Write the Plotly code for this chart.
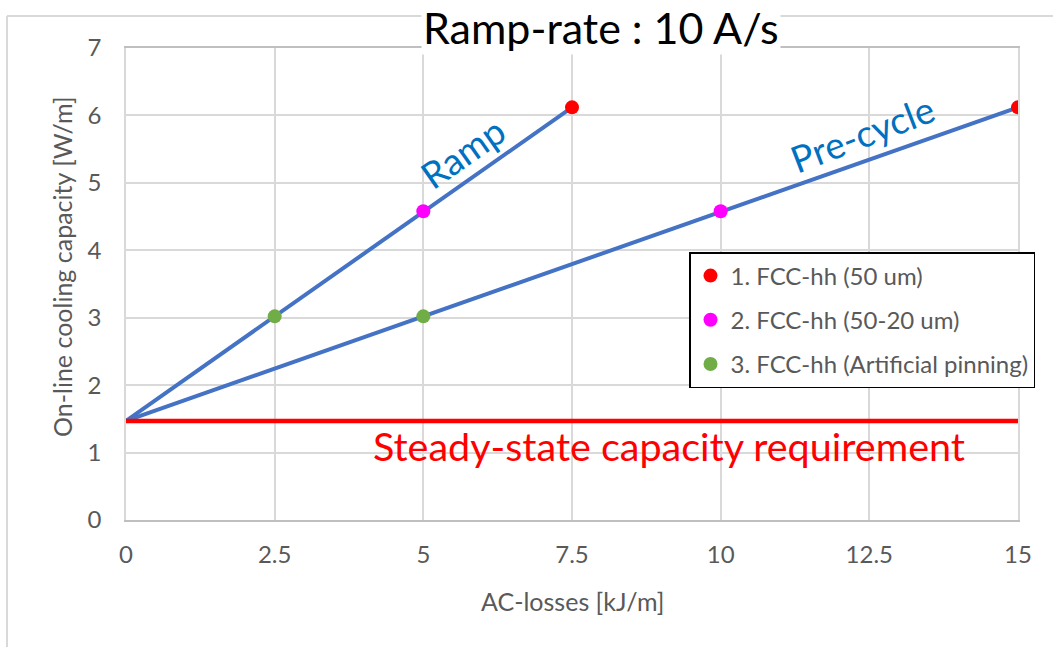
import plotly.graph_objects as go

# ---- data ----
ramp_x = [0, 2.5, 5, 7.5]
precycle_x = [0, 5, 10, 15]
capacity = [1.47, 3.02, 4.58, 6.12]
steady_x = [0, 15]
steady_y = [1.47, 1.47]
case_names = ["1. FCC-hh (50 um)", "2. FCC-hh (50-20 um)", "3. FCC-hh (Artificial pinning)"]
case_idx = [3, 2, 1]  # index into ramp_x / precycle_x / capacity
case_colors = ["#FF0000", "#FF00FF", "#70AD47"]
x_ticks = [0, 2.5, 5, 7.5, 10, 12.5, 15]
y_ticks = [0, 1, 2, 3, 4, 5, 6, 7]

FONT = "Lato"
GREY = "#595959"
GRID = "#D9D9D9"

fig = go.Figure()
fig.add_trace(go.Scatter(x=ramp_x, y=capacity, mode="lines",
                         line=dict(color="#4472C4", width=4), showlegend=False, hoverinfo="skip"))
fig.add_trace(go.Scatter(x=precycle_x, y=capacity, mode="lines",
                         line=dict(color="#4472C4", width=4), showlegend=False, hoverinfo="skip"))
fig.add_trace(go.Scatter(x=steady_x, y=steady_y, mode="lines",
                         line=dict(color="#FF0000", width=4.5), showlegend=False, hoverinfo="skip"))
for name, i, c in zip(case_names, case_idx, case_colors):
    fig.add_trace(go.Scatter(x=[ramp_x[i], precycle_x[i]], y=[capacity[i], capacity[i]],
                             mode="markers", name=name, legendgroup=name,
                             marker=dict(color=c, size=14, line=dict(width=0))))

W, H = 1053, 647
L, R, T, B = 126, 1018, 48, 520
def px(xp):
    return (xp - L) / (R - L)
def py(yp):
    return (B - yp) / (B - T)

fig.update_layout(
    width=W, height=H,
    margin=dict(l=L, r=W - R, t=T, b=H - B, pad=0),
    paper_bgcolor="white", plot_bgcolor="white",
    font=dict(family=FONT, color=GREY, size=24),
    showlegend=True,
    legend=dict(x=px(689), y=py(252), xanchor="left", yanchor="top",
                bgcolor="white", bordercolor="black", borderwidth=1.5,
                font=dict(size=24, color=GREY), tracegroupgap=10,
                itemwidth=30),
    xaxis=dict(range=[0, 15], tickvals=x_ticks, ticktext=[f"{v:g}" for v in x_ticks],
               showgrid=True, gridcolor=GRID, gridwidth=1.5, zeroline=False,
               showline=True, linecolor="#BFBFBF", linewidth=1.5, mirror=True,
               ticks="outside", ticklen=12, tickcolor="rgba(0,0,0,0)",
               tickfont=dict(size=24, color=GREY)),
    yaxis=dict(range=[0, 7], tickvals=y_ticks,
               showgrid=True, gridcolor=GRID, gridwidth=1.5, zeroline=False,
               showline=True, linecolor=GRID, linewidth=1.5, mirror=True,
               ticks="outside", ticklen=18, tickcolor="rgba(0,0,0,0)",
               tickfont=dict(size=24, color=GREY)),
    shapes=[
        dict(type="line", xref="paper", yref="paper", x0=px(7), y0=py(16), x1=px(1060), y1=py(16),
             line=dict(color=GRID, width=2), layer="below"),
        dict(type="line", xref="paper", yref="paper", x0=px(7), y0=py(16), x1=px(7), y1=py(660),
             line=dict(color=GRID, width=2), layer="below"),
    ],
    annotations=[
        dict(text="Ramp-rate : 10 A/s", xref="paper", yref="paper", x=px(601), y=py(28),
             xanchor="center", yanchor="middle", showarrow=False, bgcolor="white",
             font=dict(family=FONT, size=43, color="black")),
        dict(text="AC-losses [kJ/m]", xref="paper", yref="paper", x=px(572), y=py(601),
             xanchor="center", yanchor="middle", showarrow=False,
             font=dict(family=FONT, size=25, color=GREY)),
        dict(text="On-line cooling capacity [W/m]", xref="paper", yref="paper", x=px(62), y=py(267),
             xanchor="center", yanchor="middle", showarrow=False, textangle=-90,
             font=dict(family=FONT, size=25, color=GREY)),
        dict(text="Ramp", xref="paper", yref="paper", x=px(462), y=py(152),
             xanchor="center", yanchor="middle", showarrow=False, textangle=-35,
             font=dict(family=FONT, size=37, color="#0070C0")),
        dict(text="Pre-cycle", xref="paper", yref="paper", x=px(862), y=py(133),
             xanchor="center", yanchor="middle", showarrow=False, textangle=-21,
             font=dict(family=FONT, size=37, color="#0070C0")),
        dict(text="Steady-state capacity requirement", xref="paper", yref="paper", x=px(669), y=py(445),
             xanchor="center", yanchor="middle", showarrow=False,
             font=dict(family=FONT, size=39.5, color="#FF0000")),
    ],
)

fig.write_html("out.html", post_script="document.body.style.margin='0px';",
               config={"displayModeBar": False})
